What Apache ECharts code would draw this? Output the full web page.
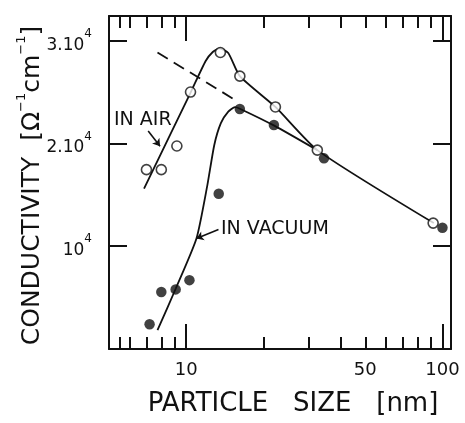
<!DOCTYPE html>
<html>
<head>
<meta charset="utf-8">
<script src="https://cdn.jsdelivr.net/npm/echarts@6/dist/echarts.min.js"></script>
<style>
  html, body { margin: 0; padding: 0; background: #fff; }
  #chart { width: 465px; height: 423px; }
</style>
</head>
<body>
<div id="chart"></div>
<script>
// Measured conductivity vs particle size
const airSize = [7.0, 8.0, 9.2, 10.4, 13.6, 16.2, 22.3, 32.5, 92];
const airCond = [17450, 17450, 19750, 25000, 28850, 26550, 23550, 19350, 12250];
const vacSize = [7.2, 8.0, 9.1, 10.3, 13.4, 16.2, 22.0, 34.5, 100];
const vacCond = [2400, 5550, 5800, 6700, 15100, 23350, 21800, 18550, 11800];

// Hand-drawn guide curves through the data
const airFitSize = [6.85, 10.43, 11.9, 12.7, 13.5, 14.6, 16.2, 22.3, 32.5, 92.5];
const airFitCond = [15600, 25000, 28000, 28900, 29250, 28800, 26550, 23550, 19350, 12250];
const vacFitSize = [7.73, 9.12, 10.97, 12.1, 12.87, 13.66, 14.6, 15.5, 16.2, 22.07, 32.5];
const vacFitCond = [1830, 5910, 10750, 15940, 19830, 21970, 23090, 23530, 23380, 21730, 19340];
// Extrapolated trend (dashed)
const trendSize = [7.73, 15.6];
const trendCond = [28850, 24200];

// Axis ticks and labels
const xMajorTicks = [10, 100];
const xMinorTicks = [5.5, 6, 7, 8, 9, 20, 30, 40, 50, 60, 70, 80, 90];
const xLabels = [10, 50, 100];
const yTicks = [10000, 20000, 30000];
const yLabelText = { 10000: '{b|10}{s|4}', 20000: '{b|2.10}{s|4}', 30000: '{b|3.10}{s|4}' };

const FONT = 'DejaVu Sans';
const INK = '#111';

const pairs = (xs, ys) => xs.map((x, i) => [x, ys[i]]);

function xAxisDef(position, ticks, len, showLine, labels) {
  return {
    type: 'log', logBase: 10, min: 5, max: 108, gridIndex: 0, position,
    axisLine: { show: showLine, onZero: false, lineStyle: { color: INK, width: 2 } },
    axisTick: { show: true, inside: true, length: len, customValues: ticks,
                lineStyle: { color: INK, width: 2 } },
    axisLabel: labels ? { show: true, customValues: labels, margin: 12,
                          color: INK, fontFamily: FONT, fontSize: 18 } : { show: false },
    splitLine: { show: false }, minorTick: { show: false }
  };
}

const xAxes = [
  Object.assign(xAxisDef('bottom', xMajorTicks, 25, true, xLabels), {
    name: 'PARTICLE   SIZE   [nm]', nameLocation: 'middle', nameGap: 42, nameMoveOverlap: false,
    nameTextStyle: { color: INK, fontFamily: FONT, fontSize: 26, padding: [0, 0, 0, 26] }
  }),
  xAxisDef('bottom', xMinorTicks, 12, false, null),
  xAxisDef('top', xMajorTicks, 25, true, null),
  xAxisDef('top', xMinorTicks, 12, false, null)
];

function yAxisDef(position, withLabels) {
  return {
    type: 'value', min: 0, max: 32400, gridIndex: 0, position,
    axisLine: { show: true, onZero: false, lineStyle: { color: INK, width: 2 } },
    axisTick: { show: true, inside: true, length: 18, customValues: yTicks,
                lineStyle: { color: INK, width: 2 } },
    axisLabel: withLabels ? {
      show: true, customValues: yTicks, margin: 17,
      formatter: v => yLabelText[v] || '',
      rich: {
        b: { fontFamily: FONT, fontSize: 17, color: INK, lineHeight: 26, verticalAlign: 'bottom' },
        s: { fontFamily: FONT, fontSize: 12, color: INK, lineHeight: 12, verticalAlign: 'top' }
      }
    } : { show: false },
    splitLine: { show: false }
  };
}

const yAxes = [
  Object.assign(yAxisDef('left', true), {
    name: '{t|CONDUCTIVITY  [Ω}{s|−1}{t|cm}{s|−1}{t|]}',
    nameLocation: 'middle', nameGap: 64, nameMoveOverlap: false,
    nameTextStyle: {
      padding: [0, 6, 0, 0],
      rich: {
        t: { fontFamily: FONT, fontSize: 25, color: INK, lineHeight: 30, verticalAlign: 'bottom' },
        s: { fontFamily: FONT, fontSize: 13, color: INK, lineHeight: 13, verticalAlign: 'top' }
      }
    }
  }),
  yAxisDef('right', false)
];

const lineStyle = { color: INK, width: 1.8 };

const option = {
  backgroundColor: '#fff',
  animation: false,
  grid: { left: 109, right: 14, top: 16, bottom: 74, containLabel: false, outerBoundsMode: 'none' },
  xAxis: xAxes,
  yAxis: yAxes,
  series: [
    { type: 'line', data: pairs(airFitSize, airFitCond), smooth: 0.2, showSymbol: false,
      lineStyle, z: 2 },
    { type: 'line', data: pairs(vacFitSize, vacFitCond), smooth: 0.2, showSymbol: false,
      lineStyle, z: 2 },
    { type: 'line', data: pairs(trendSize, trendCond), showSymbol: false,
      lineStyle: { color: INK, width: 1.8, type: [12, 7] }, z: 2 },
    { type: 'scatter', data: pairs(airSize, airCond), symbol: 'circle', symbolSize: 10,
      itemStyle: { color: '#fff', borderColor: INK, borderWidth: 1.6 }, z: 4 },
    { type: 'scatter', data: pairs(vacSize, vacCond), symbol: 'circle', symbolSize: 10.5,
      itemStyle: { color: INK }, z: 4 },
    { type: 'lines', coordinateSystem: 'cartesian2d', xAxisIndex: 0, yAxisIndex: 0,
      symbol: ['none', 'arrow'], symbolSize: 7,
      lineStyle: { color: INK, width: 1.6, opacity: 1 },
      data: [
        { coords: [[7.11, 21200], [7.91, 19730]] },
        { coords: [[13.37, 11620], [10.97, 10750]] }
      ], z: 3 }
  ],
  graphic: [
    { type: 'text', left: 114, top: 111,
      style: { text: 'IN AIR', fontFamily: FONT, fontSize: 19, fill: INK } },
    { type: 'text', left: 221, top: 220,
      style: { text: 'IN VACUUM', fontFamily: FONT, fontSize: 19, fill: INK } }
  ]
};

const chart = echarts.init(document.getElementById('chart'), null, { renderer: 'canvas' });
chart.setOption(option);
</script>
</body>
</html>
